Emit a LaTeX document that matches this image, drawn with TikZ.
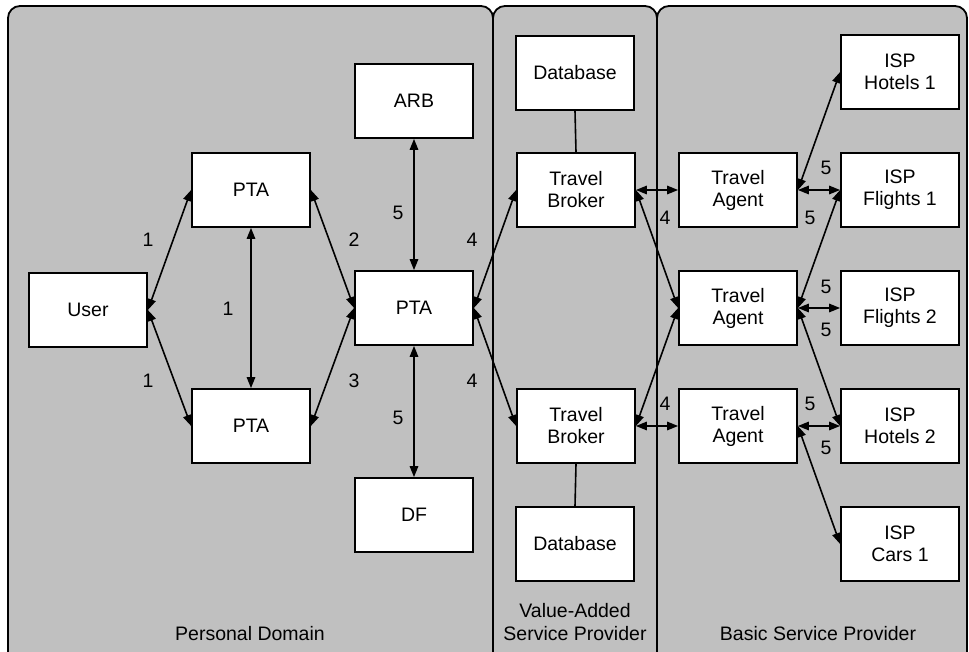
\documentclass[tikz,border=0pt]{standalone}
\usepackage{fontspec}
\setmainfont{Liberation Sans}
\usetikzlibrary{arrows.meta}
\definecolor{panelgray}{HTML}{C0C0C0}
\begin{document}
\begin{tikzpicture}[x=1pt,y=-1pt,
 panel/.style={draw=black, line width=1.8pt, fill=panelgray, rounded corners=12pt},
 box/.style={draw=black, line width=1.8pt, fill=white, minimum width=118pt, minimum height=74pt, inner sep=0pt, align=center, font=\fontsize{19.5}{22}\selectfont},
 link/.style={line width=1.6pt, {Triangle[length=11pt,width=8.5pt]}-{Triangle[length=11pt,width=8.5pt]}},
 num/.style={font=\fontsize{19.5}{22}\selectfont, inner sep=0pt},
 plainlink/.style={line width=1.6pt},
 caption/.style={font=\fontsize{19.5}{23}\selectfont, align=center, inner sep=0pt}]
\useasboundingbox (0,0) rectangle (969,652);
% panels
\draw[panel] (8,6) rectangle (493,664);
\draw[panel] (493,6) rectangle (657,664);
\draw[panel] (657,6) rectangle (967,664);
\node[caption] (capPD) at (250,634) {Personal Domain};
\node[caption] (capVA) at (575,622) {Value-Added\\Service Provider};
\node[caption] (capBS) at (818,634) {Basic Service Provider};
% nodes
\node[box] (user) at (88,310) {User};
\node[box] (ptaT) at (251,190) {PTA};
\node[box] (ptaB) at (251,426) {PTA};
\node[box] (ptaC) at (414,308) {PTA};
\node[box] (arb) at (414,101) {ARB};
\node[box] (df) at (414,515) {DF};
\node[box] (db1) at (575,73) {Database};
\node[box] (tb1) at (576,190) {Travel\\Broker};
\node[box] (tb2) at (576,426) {Travel\\Broker};
\node[box] (db2) at (575,544) {Database};
\node[box] (ta1) at (738,190) {Travel\\Agent};
\node[box] (ta2) at (738,308) {Travel\\Agent};
\node[box] (ta3) at (738,426) {Travel\\Agent};
\node[box] (h1) at (900,72) {ISP\\Hotels 1};
\node[box] (f1) at (900,190) {ISP\\Flights 1};
\node[box] (f2) at (900,308) {ISP\\Flights 2};
\node[box] (h2) at (900,426) {ISP\\Hotels 2};
\node[box] (c1) at (900,544) {ISP\\Cars 1};
% connectors
\draw[link] (user.east) -- (ptaT.west);
\draw[link] (user.east) -- (ptaB.west);
\draw[link] (ptaT.south) -- (ptaB.north);
\draw[link] (ptaT.east) -- (ptaC.west);
\draw[link] (ptaB.east) -- (ptaC.west);
\draw[link] (arb.south) -- (ptaC.north);
\draw[link] (df.north) -- (ptaC.south);
\draw[link] (ptaC.east) -- (tb1.west);
\draw[link] (ptaC.east) -- (tb2.west);
\draw[plainlink] (db1.south) -- (tb1.north);
\draw[plainlink] (db2.north) -- (tb2.south);
\draw[link] (tb1.east) -- (ta1.west);
\draw[link] (tb1.east) -- (ta2.west);
\draw[link] (tb2.east) -- (ta2.west);
\draw[link] (tb2.east) -- (ta3.west);
\draw[link] (ta1.east) -- (h1.west);
\draw[link] (ta1.east) -- (f1.west);
\draw[link] (ta2.east) -- (f1.west);
\draw[link] (ta2.east) -- (f2.west);
\draw[link] (ta2.east) -- (h2.west);
\draw[link] (ta3.east) -- (h2.west);
\draw[link] (ta3.east) -- (c1.west);
% labels
\node[num] (l1) at (148,240) {1};
\node[num] (l2) at (228,309) {1};
\node[num] (l3) at (148,381) {1};
\node[num] (l4) at (354,240) {2};
\node[num] (l5) at (354,381) {3};
\node[num] (l6) at (398,213) {5};
\node[num] (l7) at (398,418) {5};
\node[num] (l8) at (472,240) {4};
\node[num] (l9) at (472,381) {4};
\node[num] (l10) at (665,218) {4};
\node[num] (l11) at (665,404) {4};
\node[num] (l12) at (826,168) {5};
\node[num] (l13) at (810,218) {5};
\node[num] (l14) at (826,287) {5};
\node[num] (l15) at (826,330) {5};
\node[num] (l16) at (810,404) {5};
\node[num] (l17) at (826,448) {5};
\end{tikzpicture}
\end{document}
